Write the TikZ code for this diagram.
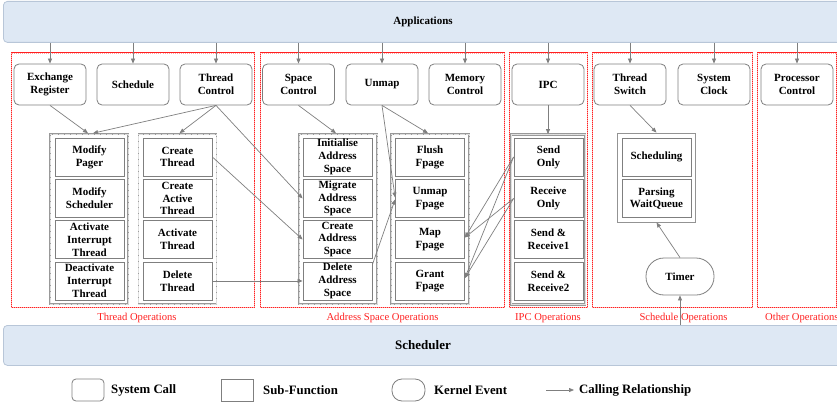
\documentclass[tikz,border=0pt]{standalone}
\usepackage{fontspec}
\setmainfont{Liberation Serif}
\usetikzlibrary{arrows.meta}

\definecolor{barfill}{HTML}{DEE8F4}
\definecolor{barline}{HTML}{B8C6D8}
\definecolor{linegray}{HTML}{7F7F7F}
\definecolor{opred}{HTML}{FF2020}

\tikzset{
  bar/.style={draw=barline, fill=barfill, rounded corners=4pt, line width=0.8pt},
  bartext/.style={font=\bfseries\fontsize{11}{13}\selectfont},
  boxfont/.style={font=\bfseries\fontsize{11}{12.8}\selectfont},
  syscall/.style={boxfont, draw=linegray, fill=white, rounded corners=5pt, line width=0.8pt,
    minimum width=72pt, minimum height=41pt, align=center, inner sep=0pt},
  subfn/.style={boxfont, draw=linegray, fill=white, line width=0.8pt,
    minimum width=69pt, minimum height=38pt, align=center, inner sep=0pt},
  group/.style={draw=gray!80, line width=1.6pt, minimum width=78pt,
    postaction={draw=gray!25, line width=0.5pt, dash pattern=on 0.6pt off 0.6pt}},
  thingroup/.style={draw=gray!85, line width=0.9pt, minimum width=78pt},
  opbox/.style={draw=opred, line width=1pt,
    postaction={draw=red!35, line width=0.3pt, dash pattern=on 0.5pt off 1.5pt}},
  oplabel/.style={text=opred, font=\fontsize{10.6}{12}\selectfont},
  kevent/.style={boxfont, draw=linegray, fill=white, line width=0.8pt, rounded corners=18pt,
    minimum width=68pt, minimum height=37pt, inner sep=0pt},
  arr/.style={draw=linegray, line width=0.7pt, -{Triangle[length=5pt,width=4pt]}},
  legendtext/.style={font=\bfseries\fontsize{12.8}{14}\selectfont, anchor=west, inner sep=0pt}
}

\begin{document}
\begin{tikzpicture}[x=1pt, y=-1pt]
\useasboundingbox (0,0) rectangle (837,404);

% kernel layers
\node[bar, minimum width=842pt, minimum height=41pt, anchor=north west] (app) at (3,1) {};
\node[bartext] (apptext) at (423,21.5) {Applications};
\node[bar, minimum width=842pt, minimum height=40pt, anchor=north west] (sched) at (3,325) {};
\node[font=\bfseries\fontsize{13}{15}\selectfont] (schedtext) at (423,345) {Scheduler};

% operation areas
\draw[opbox] (11,53) rectangle (254,307);
\draw[opbox] (260,53) rectangle (504,307);
\draw[opbox] (509,53) rectangle (587,307);
\draw[opbox] (592,53) rectangle (752,307);
\draw[opbox] (757,53) rectangle (836,307);

\node[oplabel] (lthread) at (137,318) {Thread Operations};
\node[oplabel] (laddr) at (382.5,318) {Address Space Operations};
\node[oplabel] (lipc) at (548,318) {IPC Operations};
\node[oplabel] (lsched) at (683.5,318) {Schedule Operations};
\node[oplabel, anchor=west, inner sep=0pt] (lother) at (765,318) {Other Operations};

% system calls
\node[syscall] (ex)  at (50,84.5)  {Exchange\\Register};
\node[syscall] (sc)  at (133,84.5) {Schedule};
\node[syscall] (tc)  at (216,84.5) {Thread\\Control};
\node[syscall] (spc) at (298.5,84.5) {Space\\Control};
\node[syscall] (um)  at (382,84.5) {Unmap};
\node[syscall] (mc)  at (465,84.5) {Memory\\Control};
\node[syscall] (ipc) at (548,84.5) {IPC};
\node[syscall] (ts)  at (630,84.5) {Thread\\Switch};
\node[syscall] (clk) at (714,84.5) {System\\Clock};
\node[syscall] (pc)  at (797,84.5) {Processor\\Control};

% sub-function groups
\node[group, minimum height=170pt] (g1) at (89,219) {};
\node[group, minimum height=170pt] (g2) at (177.5,219) {};
\node[group, minimum height=170pt] (g3) at (338,219) {};
\node[group, minimum height=170pt] (g4) at (430,219) {};
\node[group, minimum height=170pt, minimum width=74pt, double=gray!20, double distance=0.6pt, line width=0.8pt] (g5) at (548,219.5) {};
\node[thingroup, minimum height=89pt] (g6) at (656.5,177.5) {};

% thread sub-functions
\node[subfn] (mpag) at (89.5,157)   {Modify\\Pager};
\node[subfn] (msch) at (89.5,198.5) {Modify\\Scheduler};
\node[subfn] (aint) at (89.5,239.5) {Activate\\Interrupt\\Thread};
\node[subfn] (dint) at (89.5,281)   {Deactivate\\Interrupt\\Thread};
\node[subfn] (ct)   at (177.5,157)   {Create\\Thread};
\node[subfn] (cat)  at (177.5,198.5) {Create\\Active\\Thread};
\node[subfn] (at)   at (177.5,239.5) {Activate\\Thread};
\node[subfn] (dt)   at (177.5,281)   {Delete\\Thread};

% address space sub-functions
\node[subfn] (ias) at (337.5,157)   {Initialise\\Address\\Space};
\node[subfn] (mas) at (337.5,198.5) {Migrate\\Address\\Space};
\node[subfn] (cas) at (337.5,239.5) {Create\\Address\\Space};
\node[subfn] (das) at (337.5,281)   {Delete\\Address\\Space};
\node[subfn] (ff)  at (430,157)   {Flush\\Fpage};
\node[subfn] (uf)  at (430,198.5) {Unmap\\Fpage};
\node[subfn] (mf)  at (430,239.5) {Map\\Fpage};
\node[subfn] (gf)  at (430,281)   {Grant\\Fpage};

% IPC sub-functions
\node[subfn] (so)  at (548.5,157)   {Send\\Only};
\node[subfn] (ro)  at (548.5,198.5) {Receive\\Only};
\node[subfn] (sr1) at (548.5,239.5) {Send \&\\Receive1};
\node[subfn] (sr2) at (548.5,281)   {Send \&\\Receive2};

% schedule sub-functions and kernel event
\node[subfn] (sg) at (656.5,157)   {Scheduling};
\node[subfn] (pw) at (656.5,198.5) {Parsing\\WaitQueue};
\node[kevent] (timer) at (680,276.5) {Timer};

% calls from applications
\foreach \n in {ex,sc,tc,spc,um,mc,ipc,ts,clk,pc}
  \draw[arr] (\n.north |- app.south) -- (\n.north);

% calling relationships
\draw[arr] (ex.south) -- ([xshift=-1pt]g1.north);
\draw[arr] (tc.south) -- ([xshift=4pt]g1.north);
\draw[arr] (tc.south) -- ([xshift=2pt]g2.north);
\draw[arr] (tc.south) -- (mas.west);
\draw[arr] (ct.east) -- (cas.west);
\draw[arr] (dt.east) -- (das.west);
\draw[arr] (spc.south) -- ([xshift=-2pt]g3.north);
\draw[arr] (um.south) -- ([xshift=-2pt]g4.north);
\draw[arr] (um.south) -- ([yshift=1pt]uf.west);
\draw[arr] ([yshift=-3pt]das.north east) -- ([yshift=-1pt]uf.west);
\draw[arr] (ipc.south) -- (g5.north);
\draw[arr] (so.west) -- ([yshift=2pt]mf.east);
\draw[arr] (so.west) -- ([yshift=3pt]gf.east);
\draw[arr] (ro.west) -- ([yshift=2pt]mf.east);
\draw[arr] (ro.west) -- ([yshift=3pt]gf.east);
\draw[arr] (ts.south) -- (g6.north);
\draw[arr] (timer.north) -- (g6.south);
\draw[arr] (timer.south |- sched.north) -- (timer.south);

% legend
\node[draw=linegray, line width=0.8pt, rounded corners=4pt, minimum width=32pt, minimum height=22pt] (lgsys) at (88,390) {};
\node[legendtext] (lgsyst) at (111,390) {System Call};
\node[draw=linegray, line width=0.8pt, minimum width=32pt, minimum height=22pt] (lgsub) at (237,390) {};
\node[legendtext] (lgsubt) at (263,390) {Sub-Function};
\node[draw=linegray, line width=0.8pt, rounded corners=10pt, minimum width=33pt, minimum height=22pt] (lgev) at (408.5,390) {};
\node[legendtext] (lgevt) at (434,390) {Kernel Event};
\coordinate (lga) at (546,390);
\coordinate (lgb) at (574,390);
\draw[arr] (lga) -- (lgb);
\node[legendtext] (lgarrt) at (579,390) {Calling Relationship};
\end{tikzpicture}
\end{document}
